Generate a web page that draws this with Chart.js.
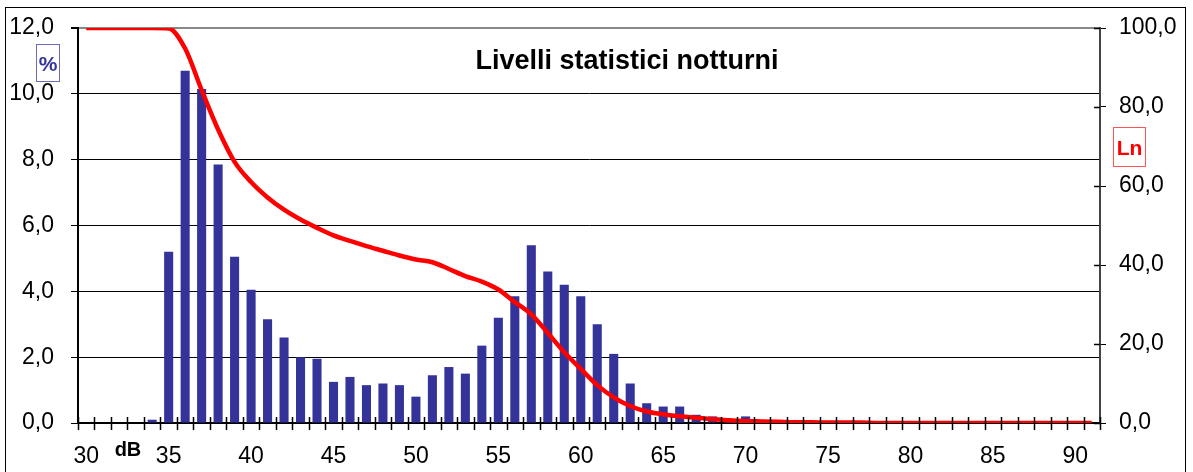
<!DOCTYPE html>
<html>
<head>
<meta charset="utf-8">
<script src="https://cdn.jsdelivr.net/npm/chart.js@4.4.0/dist/chart.umd.min.js"></script>
<style>
  body { margin: 0; background: #fff; }
  #wrap { position: relative; width: 1193px; height: 472px; overflow: hidden; }
  #frame { position: absolute; left: 5px; top: 7px; width: 1179px; height: 480px; border: 1px solid #000; }
  #chart { position: absolute; left: 0; top: 0; }
  .txt { position: absolute; font-family: Arial, "Liberation Sans", sans-serif; font-weight: bold; line-height: 1; white-space: nowrap; }
  #title { left: 327px; width: 600px; top: 47px; font-size: 27px; text-align: center; color: #000; }
  .box { display: flex; align-items: center; justify-content: center; box-sizing: border-box; }
  #pct { left: 36px; top: 44px; width: 24px; height: 38px; border: 1px solid #6b6bb8; color: #333399; font-size: 21px; }
  #ln { left: 1113px; top: 127px; width: 33px; height: 40px; border: 1px solid #ff5555; color: #ff0000; font-size: 21px; }
  #db { left: 103px; width: 50px; top: 439px; font-size: 20px; text-align: center; color: #000; }
</style>
</head>
<body>
<div id="wrap">
  <div id="frame"></div>
  <canvas id="chart" width="1193" height="472"></canvas>
  <div id="title" class="txt">Livelli statistici notturni</div>
  <div id="pct" class="txt box">%</div>
  <div id="ln" class="txt box">Ln</div>
  <div id="db" class="txt">dB</div>
</div>
<script>
// dB classes on the x axis
const dbLabels = [
  '30','31','32','33','34','35','36','37','38','39',
  '40','41','42','43','44','45','46','47','48','49',
  '50','51','52','53','54','55','56','57','58','59',
  '60','61','62','63','64','65','66','67','68','69',
  '70','71','72','73','74','75','76','77','78','79',
  '80','81','82','83','84','85','86','87','88','89',
  '90','91'
];

// % of time in each class (bars, left axis)
const percent = [
  0, 0, 0, 0, 0.1, 5.2, 10.7, 10.15, 7.85, 5.05,
  4.05, 3.15, 2.6, 2.0, 1.95, 1.25, 1.4, 1.15, 1.2, 1.15,
  0.8, 1.45, 1.7, 1.5, 2.35, 3.2, 3.85, 5.4, 4.6, 4.2,
  3.85, 3.0, 2.1, 1.2, 0.6, 0.5, 0.5, 0.25, 0.2, 0.05,
  0.2, 0, 0, 0, 0, 0, 0, 0, 0, 0,
  0, 0, 0, 0, 0, 0, 0, 0, 0, 0,
  0, 0
];

// Ln statistical levels (red line, right axis)
const ln = [
  100, 100, 100, 100, 100, 99.9, 94.8, 84.3, 74.3, 66.1,
  61.0, 57.1, 54.0, 51.5, 49.4, 47.5, 46.1, 44.8, 43.6, 42.4,
  41.4, 40.7, 39.0, 37.2, 35.8, 33.8, 30.6, 27.5, 22.8, 17.9,
  13.7, 9.6, 6.5, 4.3, 2.9, 2.2, 1.7, 1.3, 1.0, 0.7,
  0.5, 0.4, 0.3, 0.2, 0.2, 0.1, 0.1, 0.1, 0, 0,
  0, 0, 0, 0, 0, 0, 0, 0, 0, 0,
  0, 0
];

const leftMax = 12;
const rightMax = 100;

const FONT = 'Arial, "Liberation Sans", sans-serif';
const comma = v => Number(v).toFixed(1).replace('.', ',');

// tick marks that cross the x axis and the right axis, like the Excel original
const crossTicks = {
  id: 'crossTicks',
  afterDatasetsDraw(chart) {
    const { ctx } = chart;
    const x = chart.scales.x;
    const y1 = chart.scales.y1;
    const step = x.getPixelForValue(1) - x.getPixelForValue(0);
    ctx.save();
    ctx.strokeStyle = '#000';
    ctx.lineWidth = 1.5;
    ctx.beginPath();
    for (let i = 0; i <= dbLabels.length; i++) {
      const px = Math.round(x.getPixelForValue(i) - step / 2) + 0.5;
      ctx.moveTo(px, x.top - 6);
      ctx.lineTo(px, x.top + 7);
    }
    y1.ticks.forEach(t => {
      const py = Math.round(y1.getPixelForValue(t.value)) + 0.5;
      ctx.moveTo(y1.left - 6, py);
      ctx.lineTo(y1.left, py);
    });
    ctx.stroke();
    ctx.restore();
  }
};

// keep the plot area where the original has it (labels may overflow the padding)
const noLabelPadding = s => { s.paddingTop = 0; s.paddingBottom = 0; };

new Chart(document.getElementById('chart'), {
  data: {
    labels: dbLabels,
    datasets: [
      {
        type: 'line',
        label: 'Ln',
        data: ln,
        yAxisID: 'y1',
        borderColor: '#ff0000',
        borderWidth: 4.5,
        pointRadius: 0,
        cubicInterpolationMode: 'monotone',
        fill: false,
        order: 1,
      },
      {
        type: 'bar',
        label: '%',
        data: percent,
        yAxisID: 'y',
        backgroundColor: '#333399',
        barPercentage: 0.55,
        categoryPercentage: 1.0,
        order: 2,
      },
    ],
  },
  options: {
    responsive: false,
    animation: false,
    layout: { padding: { top: 28, left: 0, right: 0, bottom: 0 } },
    plugins: {
      legend: { display: false },
      tooltip: { enabled: false },
    },
    scales: {
      x: {
        type: 'category',
        offset: true,
        grid: { offset: true, drawOnChartArea: false, drawTicks: false },
        border: { display: true, color: '#000', width: 2 },
        ticks: {
          autoSkip: false,
          maxRotation: 0,
          padding: 20,
          color: '#000',
          font: { family: FONT, size: 23 },
          callback: (v, i) => (Number(dbLabels[i]) % 5 === 0 ? dbLabels[i] : ''),
        },
        afterFit: s => { s.height = 49; },
      },
      y: {
        position: 'left',
        min: 0,
        max: leftMax,
        ticks: {
          stepSize: 2,
          padding: 17,
          color: '#000',
          font: { family: FONT, size: 23 },
          callback: v => comma(v),
        },
        grid: {
          color: c => (c.tick && c.tick.value === leftMax ? '#888' : '#000'),
          lineWidth: c => (c.tick && c.tick.value === leftMax ? 2 : 1),
          tickColor: '#000',
          tickLength: 7,
        },
        border: { display: true, color: '#000', width: 2 },
        afterFit: s => { s.width = 78; noLabelPadding(s); },
      },
      y1: {
        position: 'right',
        min: 0,
        max: rightMax,
        ticks: {
          stepSize: 20,
          padding: 13,
          color: '#000',
          font: { family: FONT, size: 23 },
          callback: v => comma(v),
        },
        grid: { drawOnChartArea: false, tickColor: '#000', tickLength: 6 },
        border: { display: true, color: '#444', width: 2 },
        afterFit: s => { s.width = 93; noLabelPadding(s); },
      },
    },
  },
  plugins: [crossTicks],
});
</script>
</body>
</html>
